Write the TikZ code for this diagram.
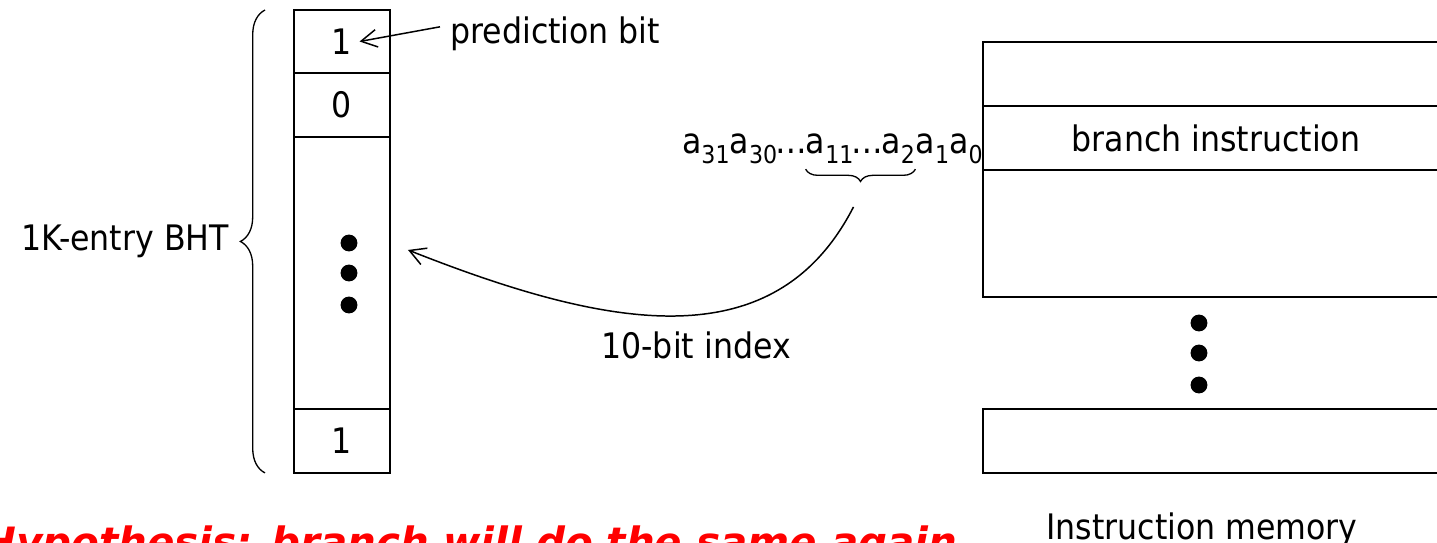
\documentclass[tikz,border=0pt]{standalone}
\usepackage{fontspec}
\setmainfont{DejaVu Sans Condensed}
\newfontfamily\notefont{DejaVu Sans}
\usetikzlibrary{calc, positioning, arrows.meta, decorations.pathreplacing}

\newcommand{\lowidx}[1]{\raisebox{-0.3em}{\fontsize{14}{14}\selectfont #1}}

\begin{document}
\begin{tikzpicture}[
    x=0.02cm, y=-0.02cm,
    font=\fontsize{20}{24}\selectfont,
    cell/.style={
        rectangle,
        draw=black,
        line width=1.5pt,
        minimum width=1.92cm,
        outer sep=0pt,
        inner sep=0pt
    },
    memrow/.style={
        rectangle,
        draw=black,
        line width=1.1pt,
        minimum width=9.34cm,
        outer sep=0pt,
        inner sep=0pt
    },
    ptr/.style={
        -{Straight Barb[length=9pt, width=10pt]},
        line width=0.85pt
    },
    curly/.style={
        decorate,
        line width=0.75pt
    }
]

\useasboundingbox (0,0) rectangle (1437,542);
\clip (0,0) rectangle (1437,542);

% branch history table
\node[cell, minimum height=1.26cm] (bht1) at (342,41.5) {1};
\node[cell, minimum height=1.28cm, below=0pt of bht1] (bht2) {0};
\node[cell, minimum height=5.44cm, below=0pt of bht2] (bhtmid) {};
\node[cell, minimum height=1.28cm, below=0pt of bhtmid] (bhtn) {1};
\foreach \y in {243,273,305} {
    \fill (349,\y) circle[radius=4.8pt];
}

\draw[curly, decoration={brace, amplitude=14pt}] (bhtn.south west) ++(-29,0) coordinate (brbot)
    -- ($(bht1.north west)+(-29,0)$) coordinate (brtop);
\coordinate (bhttip) at ($(brbot)!0.5!(brtop)+(-25,0)$);
\node[left=0.1cm of bhttip] (bhtlbl) {1K-entry BHT};

\node[anchor=base west, inner sep=0pt] (pbit) at (450,43) {prediction bit};
\draw[ptr] ([xshift=-5.7pt, yshift=3.7pt]pbit.west) -- ([xshift=10pt]bht1.center);

% instruction memory
\node[memrow, minimum height=1.28cm] (mem1) at (1216,74) {};
\node[memrow, minimum height=1.28cm, below=0pt of mem1] (mem2) {branch instruction};
\node[memrow, minimum height=2.54cm, below=0pt of mem2] (mem3) {};
\node[memrow, minimum height=1.28cm] (memn) at (1216,441) {};
\foreach \y in {323,353,385} {
    \fill (1199,\y) circle[radius=4.8pt];
}
\node[anchor=base] (memlbl) at (1202,539) {Instruction memory};

% address bits
\node[inner sep=0pt, anchor=base east] (addrlo) at (983,153) {a\lowidx{1}a\lowidx{0}};
\node[inner sep=0pt, anchor=base east] (addrmid) at (addrlo.base west) {a\lowidx{11}\kern-1pt…\kern-1pt a\lowidx{2}};
\node[inner sep=0pt, anchor=base east] (addrhi) at (addrmid.base west) {a\lowidx{31}a\lowidx{30}\kern-1pt…\kern-1pt};
\draw[curly, decoration={brace, mirror, amplitude=7pt}]
    ([yshift=-3pt]addrmid.south west) -- ([yshift=-3pt]addrmid.south east);
\coordinate (idx) at ($(addrmid.south)+(-7,43)$);
\draw[ptr] (idx) .. controls (775,360) and (610,330) .. ($(bhtmid.east)+(18,-23)$);
\node[anchor=base] (idxlbl) at (696,358) {10-bit index};

\node[anchor=base west, text=red, font={\notefont\fontsize{23}{27}\selectfont\bfseries\itshape}] (hyp)
    at (-24,556) {Hypothesis: branch will do the same again};

\end{tikzpicture}
\end{document}
